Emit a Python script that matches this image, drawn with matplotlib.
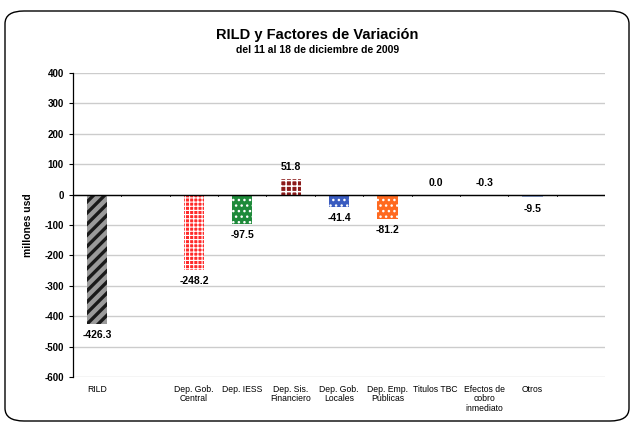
import numpy as np
import matplotlib.pyplot as plt
from matplotlib.patches import FancyBboxPatch

plt.rcParams['font.family'] = ['Liberation Sans', 'DejaVu Sans']
plt.rcParams['axes.unicode_minus'] = False

categorias = ["RILD", "", "Dep. Gob.\nCentral", "Dep. IESS", "Dep. Sis.\nFinanciero",
              "Dep. Gob.\nLocales", "Dep. Emp.\nPúblicas", "Titulos TBC",
              "Efectos de\ncobro\ninmediato", "Otros", ""]
valores = [-426.3, np.nan, -248.2, -97.5, 51.8, -41.4, -81.2, 0.0, -0.3, -9.5, np.nan]
etiquetas = ["-426.3", "", "-248.2", "-97.5", "51.8", "-41.4", "-81.2", "0.0", "-0.3", "-9.5", ""]

colores = ["#9a9a9a", "none", "#ff2a2a", "#1e8a3a", "#8b1a1a", "#3a5cc0", "#ff6a20",
           "#ffffff", "#c8d4ea", "#8fa3d0", "none"]
tramas_color = ["#1a1a1a", "none", "white", "white", "white", "white", "white",
                "white", "white", "white", "none"]
tramas = ["///", "", "++++", "...", "+++", "...", "...", "", "...", "...", ""]
grosor_trama = [2.4, 1, 0.8, 1, 1.1, 1, 1, 1, 1, 1, 1]

fig = plt.figure(figsize=(6.35, 4.25), dpi=100)
ax = fig.add_axes([73/635, 48/425, 532/635, 304/425])

x = np.arange(len(categorias))
for i in range(len(categorias)):
    if np.isnan(valores[i]):
        continue
    plt.rcParams['hatch.linewidth'] = grosor_trama[i]
    ax.bar(x[i], valores[i], width=0.42, color=colores[i], edgecolor=tramas_color[i],
           hatch=tramas[i], linewidth=0, zorder=3)

# etiquetas de datos
for i in range(len(categorias)):
    if etiquetas[i] == "":
        continue
    v = valores[i]
    if v > 0 or i in (7, 8):
        y = max(v, 0) + 22
        va = "bottom"
    else:
        y = v - 20
        va = "top"
    ax.text(x[i], y, etiquetas[i], ha="center", va=va, fontsize=7.5, fontweight="bold", zorder=4)

ax.set_xlim(-0.5, len(categorias) - 0.5)
ax.set_ylim(-600, 400)
ax.set_yticks(np.arange(-600, 401, 100))
ax.tick_params(axis="y", labelsize=7, length=3, direction="out", width=0.8)
for lbl in ax.get_yticklabels():
    lbl.set_fontweight("bold")
ax.set_ylabel("millones usd", fontsize=7.5, fontweight="bold", labelpad=8)

ax.set_xticks(x)
ax.set_xticklabels([])
ax.tick_params(axis="x", length=0)
for i, c in enumerate(categorias):
    ax.text(x[i], -625, c, ha="center", va="top", fontsize=6.2, linespacing=1.1)

# marcas menores en el eje cero
ax.axhline(0, color="black", linewidth=1.0, zorder=4)
for b in np.arange(0.5, len(categorias) - 0.5, 1):
    ax.plot([b, b], [0, -6], color="black", linewidth=0.6, zorder=4)

ax.grid(axis="y", color="#cccccc", linewidth=1.0, zorder=0)
for s in ["top", "right", "bottom"]:
    ax.spines[s].set_visible(False)
ax.spines["left"].set_linewidth(0.9)

fig.text(0.5, 1 - 35/425, "RILD y Factores de Variación", ha="center", va="center",
         fontsize=10.5, fontweight="bold")
fig.text(0.5, 1 - 50/425, "del 11 al 18 de diciembre de 2009", ha="center", va="center",
         fontsize=7.5, fontweight="bold")

marco = FancyBboxPatch((5/635, 4/425), 624/635, 410/425, boxstyle="round,pad=0,rounding_size=0.03",
                       transform=fig.transFigure, fill=False, edgecolor="black", linewidth=1.0)
fig.patches.append(marco)

fig.savefig("out.png", dpi=100)
